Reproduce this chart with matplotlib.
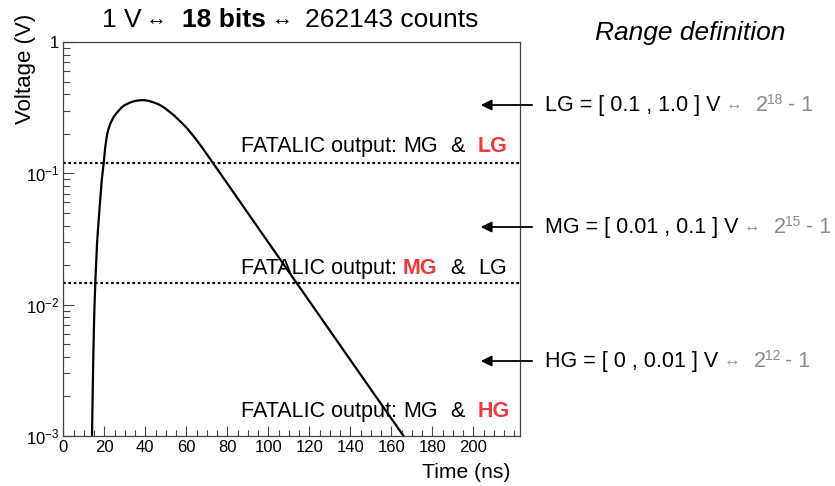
import numpy as np
import matplotlib
matplotlib.use("Agg")
import matplotlib.pyplot as plt
from matplotlib.ticker import MultipleLocator, LogLocator, NullFormatter, FixedLocator
from matplotlib.transforms import IdentityTransform

plt.rcParams['font.family'] = ['Liberation Sans', 'DejaVu Sans']
plt.rcParams['mathtext.fontset'] = 'custom'
plt.rcParams['mathtext.rm'] = 'Liberation Sans'
plt.rcParams['mathtext.it'] = 'Liberation Sans:italic'

# pulse
time_ns = [14.0, 14.3, 14.7, 15.1, 15.6, 16.5, 17.3, 18.0, 18.8, 19.7, 20.5, 21.3, 22.0,
           23.0, 24.5, 26.0, 28.0, 29.4, 32.0, 34.0, 36.0, 38.4, 40.0, 42.0, 44.5, 47.2,
           50.0, 53.8, 56.0, 60.0, 64.0, 68.0, 73.0, 84.7, 100.0, 114.0, 130.0, 150.0, 166.0]
voltage = [0.001, 0.002, 0.0045, 0.0085, 0.0146, 0.03, 0.045, 0.063, 0.09, 0.12, 0.16, 0.195, 0.217,
           0.24, 0.268, 0.288, 0.312, 0.327, 0.343, 0.352, 0.358, 0.361, 0.36, 0.355, 0.345, 0.331,
           0.31, 0.278, 0.258, 0.224, 0.188, 0.155, 0.12, 0.0657, 0.0298, 0.0145, 0.00636, 0.00227, 0.001]

# switching thresholds (dotted lines)
thresholds = [0.12, 0.0146]

RED = '#f03a3a'
GRAY = '#8a8a8a'
W, H = 835, 486

fig = plt.figure(figsize=(W / 100, H / 100), dpi=100)
ax = fig.add_axes([63.3 / W, 1 - 436 / H, (520 - 63.3) / W, (436 - 42) / H])

ax.plot(time_ns, voltage, color='black', linewidth=1.6)
for th in thresholds:
    ax.axhline(th, color='black', linestyle=(0, (1.2, 1.2)), linewidth=1.6)

ax.set_yscale('log')
ax.set_ylim(1e-3, 1)
ax.set_xlim(0, 222.8)

ax.xaxis.set_major_locator(FixedLocator(np.arange(0, 201, 20)))
ax.xaxis.set_minor_locator(MultipleLocator(5))
ax.set_yticks([1e-3, 1e-2, 1e-1, 1], labels=['$10^{-3}$', '$10^{-2}$', '$10^{-1}$', '1'])
ax.yaxis.set_minor_locator(LogLocator(base=10, subs=np.arange(2, 10)))
ax.yaxis.set_minor_formatter(NullFormatter())

for s in ax.spines.values():
    s.set_color('#444444')
    s.set_linewidth(0.9)
ax.tick_params(which='both', direction='in', top=False, right=False, colors='#444444',
               labelcolor='black', labelsize=12)
ax.tick_params(axis='x', which='major', length=7.5, width=0.8, pad=3)
ax.tick_params(axis='x', which='minor', length=4, width=0.8)
ax.tick_params(axis='y', which='major', length=8, width=0.8, pad=3)
ax.tick_params(axis='y', which='minor', length=5, width=0.8)

fig.text(510 / W, 1 - 472 / H, 'Time (ns)', ha='right', va='center', fontsize=15.2)
fig.text(26 / W, 1 - 14 / H, 'Voltage (V)', ha='center', va='top', rotation=90, fontsize=16)

renderer = fig.canvas.get_renderer()


def pieces(x, y, parts):
    # parts: (text, props, gap before in px, raise in px)
    for s, props, gap, dy in parts:
        x += gap
        t = fig.text(x, y + dy, s, transform=IdentityTransform(), va='baseline', **props)
        x = t.get_window_extent(renderer=renderer).x1


def at(xp, yp, s, **props):
    # text with its left edge / baseline at pixel position of the picture
    fig.text(xp, H - yp, s, transform=IdentityTransform(), va='baseline', **props)


# title
at(102, 27, '1 V', fontsize=19)
at(146, 25, '↔', fontsize=15)
at(182, 27, '18 bits', fontsize=19, fontweight='bold')
at(272, 25, '↔', fontsize=15)
at(305, 27, '262143 counts', fontsize=19)

fig.text(690 / W, 1 - 33 / H, 'Range definition', ha='center', va='center',
         fontsize=19, style='italic')

# in-plot labels
FS = 15.5
for ypos, red_first, last in [(152, False, 'LG'), (274, True, 'LG'), (417, False, 'HG')]:
    if red_first:
        pieces(241, H - ypos, [
            ('FATALIC output:', dict(fontsize=FS), 0, 0),
            ('MG', dict(fontsize=FS, color=RED, fontweight='bold'), 6, 0),
            ('&', dict(fontsize=FS), 13, 0),
            (last, dict(fontsize=FS), 13, 0),
        ])
    else:
        pieces(241, H - ypos, [
            ('FATALIC output:', dict(fontsize=FS), 0, 0),
            ('MG', dict(fontsize=FS), 6, 0),
            ('&', dict(fontsize=FS), 13, 0),
            (last, dict(fontsize=FS, color=RED, fontweight='bold'), 13, 0),
        ])

# range definitions with arrows
ranges = ['LG = [ 0.1 , 1.0 ] V', 'MG = [ 0.01 , 0.1 ] V', 'HG = [ 0 , 0.01 ] V']
bits = ['18', '15', '12']
rows_y = [105, 227, 361]
for label, b, yy in zip(ranges, bits, rows_y):
    fig.add_artist(matplotlib.patches.FancyArrowPatch(
        (535 / W, 1 - yy / H), (478 / W, 1 - yy / H), transform=fig.transFigure,
        arrowstyle='-|>', mutation_scale=16, color='black', linewidth=1.3))
    pieces(545, H - yy - 6, [
        (label, dict(fontsize=15.5), 0, 0),
        ('↔', dict(fontsize=12, color=GRAY), 5, 1),
        ('2', dict(fontsize=15.5, color=GRAY), 14, 0),
        (b, dict(fontsize=10, color=GRAY), -1, 7),
        ('- 1', dict(fontsize=15.5, color=GRAY), 5, 0),
    ])

fig.savefig('out.png', dpi=100)
